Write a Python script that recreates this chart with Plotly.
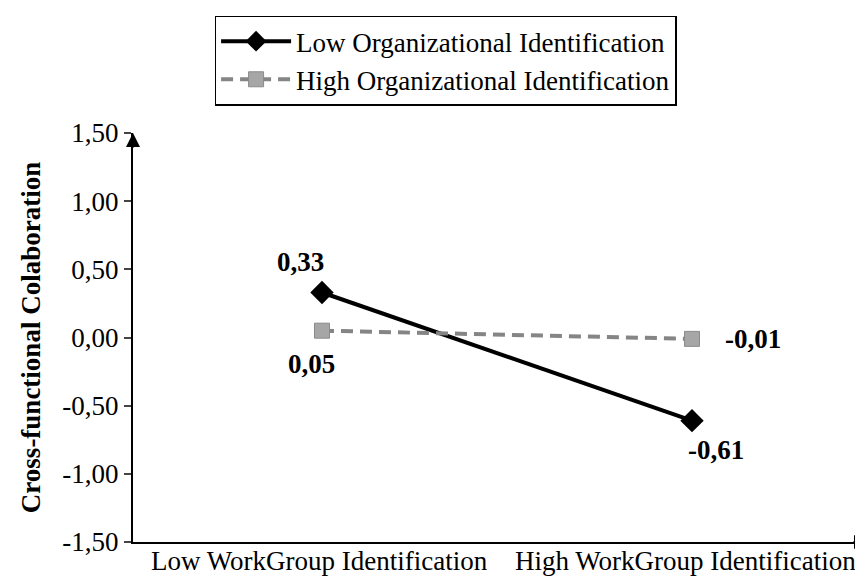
import plotly.graph_objects as go

categories = ["Low WorkGroup Identification", "High WorkGroup Identification"]
series_names = ["Low Organizational Identification", "High Organizational Identification"]
low_org = [0.33, -0.61]
high_org = [0.05, -0.01]
y_ticks = [-1.5, -1.0, -0.5, 0.0, 0.5, 1.0, 1.5]
y_title = "Cross-functional Colaboration"


def fmt(v):
    return ("%.2f" % v).replace(".", ",")


FONT = "Liberation Serif, Times New Roman, serif"
FS = 27

fig = go.Figure()
fig.add_trace(go.Scatter(
    x=categories, y=low_org, name=series_names[0], mode="lines+markers",
    line=dict(color="black", width=4),
    marker=dict(symbol="diamond", size=18, color="black"),
))
fig.add_trace(go.Scatter(
    x=categories, y=high_org, name=series_names[1], mode="lines+markers",
    line=dict(color="#858585", width=4, dash="12px,7px"),
    marker=dict(symbol="square", size=15, color="#a6a6a6", line=dict(color="#8a8a8a", width=1)),
))

# data labels
label_offsets = {
    0: [(-21, 31), (24, -29)],
    1: [(-10, -33), (61, 0)],
}
for si, vals in enumerate([low_org, high_org]):
    for ci, v in enumerate(vals):
        dx, dy = label_offsets[si][ci]
        fig.add_annotation(
            x=categories[ci], y=v, text=fmt(v),
            showarrow=False, xshift=dx, yshift=dy,
            font=dict(family=FONT, size=FS, color="black", weight="bold"),
        )

# category labels (placed under the axis)
cat_xshift = [-2, -6]
for c, dx in zip(categories, cat_xshift):
    fig.add_annotation(
        x=c, y=0, xref="x", yref="paper", text=c, showarrow=False,
        yanchor="middle", xanchor="center", yshift=-19, xshift=dx,
        font=dict(family=FONT, size=FS, color="black"),
    )

# axis arrows
fig.add_annotation(x=0, y=1, xref="paper", yref="paper", ax=0, ay=16, text="",
                   showarrow=True, arrowhead=2, arrowsize=1.4, arrowwidth=2, arrowcolor="black")
fig.add_annotation(x=1, y=0, xref="paper", yref="paper", ax=-16, ay=0, text="",
                   showarrow=True, arrowhead=2, arrowsize=1.4, arrowwidth=2, arrowcolor="black")

fig.update_layout(
    width=863, height=580,
    margin=dict(l=125, r=3, t=125, b=46),
    plot_bgcolor="white", paper_bgcolor="white",
    font=dict(family=FONT, size=FS, color="black"),
    showlegend=True,
    legend=dict(
        x=0.111, y=1.287, xanchor="left", yanchor="top",
        bordercolor="black", borderwidth=1.5, bgcolor="white",
        font=dict(family=FONT, size=FS, color="black"),
        itemwidth=70, tracegroupgap=0,
    ),
    xaxis=dict(
        type="category", range=[-0.5108, 1.4757],
        showline=True, linecolor="black", linewidth=2,
        showgrid=False, zeroline=False, ticks="", showticklabels=False,
    ),
    yaxis=dict(
        range=[-1.5, 1.5], tickvals=y_ticks, ticktext=[fmt(v) for v in y_ticks],
        showline=True, linecolor="black", linewidth=2,
        showgrid=False, zeroline=False, ticks="outside", ticklen=7, tickwidth=1.5,
        tickfont=dict(family=FONT, size=FS, color="black"),
        title=dict(text=y_title, font=dict(family=FONT, size=FS, color="black", weight="bold"), standoff=14),
    ),
)

fig.write_html("out.html")
